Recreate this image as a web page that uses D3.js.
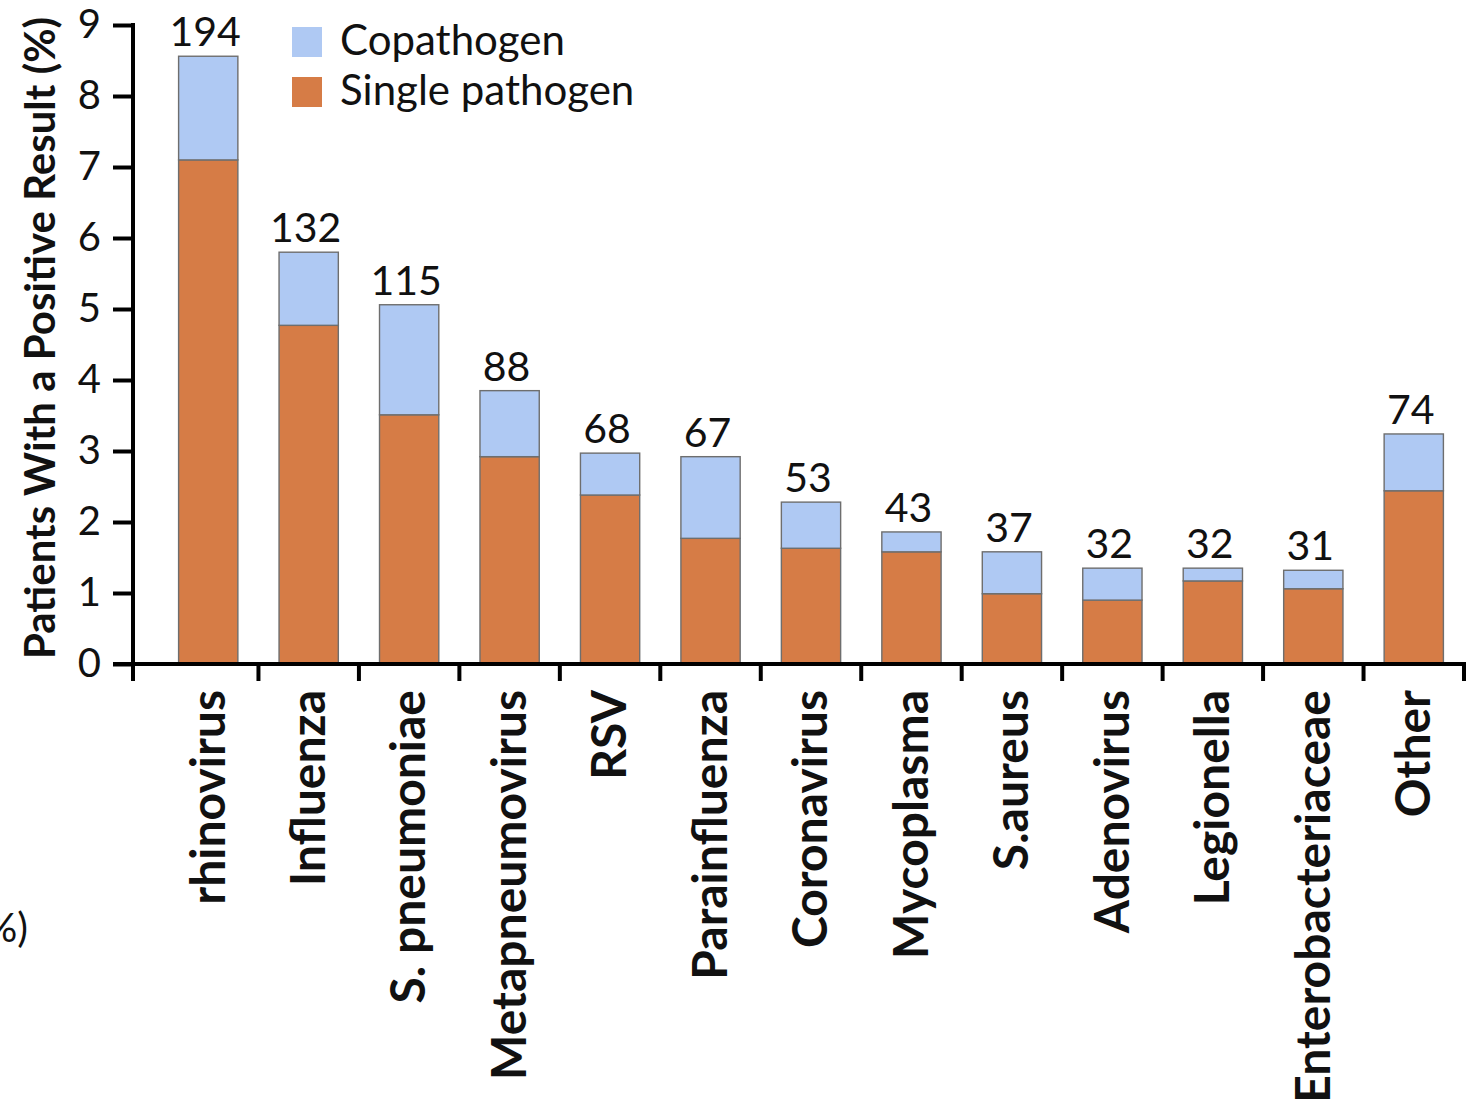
<!DOCTYPE html>
<html>
<head>
<meta charset="utf-8">
<script src="https://cdn.jsdelivr.net/npm/d3@7"></script>
<style>
  html, body { margin: 0; padding: 0; background: #fff; }
  svg { display: block; font-family: Lato, "Open Sans", sans-serif; }
</style>
</head>
<body>
<div id="chart"></div>
<script>
// Pathogens detected, percent of patients, split by single vs copathogen
const categories = ['rhinovirus', 'Influenza', 'S. pneumoniae', 'Metapneumovirus', 'RSV',
  'Parainfluenza', 'Coronavirus', 'Mycoplasma', 'S.aureus', 'Adenovirus', 'Legionella',
  'Enterobacteriaceae', 'Other'];
const singlePathogen = [7.10, 4.77, 3.51, 2.92, 2.38, 1.77, 1.63, 1.58, 0.99, 0.90, 1.17, 1.06, 2.44];
const copathogen = [1.46, 1.03, 1.55, 0.93, 0.59, 1.15, 0.65, 0.28, 0.59, 0.45, 0.18, 0.26, 0.80];
const counts = [194, 132, 115, 88, 68, 67, 53, 43, 37, 32, 32, 31, 74];
const yTicks = [0, 1, 2, 3, 4, 5, 6, 7, 8, 9];
const legendItems = ['Copathogen', 'Single pathogen'];

const W = 1473, H = 1109;
const colors = { single: '#d67c46', copathogen: '#afc9f3' };

const svg = d3.select('#chart').append('svg')
  .attr('width', W)
  .attr('height', H);

const x = d3.scaleBand()
  .domain(categories)
  .range([158, 1464])
  .paddingInner(0.41)
  .paddingOuter(0.205);

const y = d3.scaleLinear()
  .domain([0, 9])
  .range([664, 25]);

const rows = categories.map((c, i) => ({
  name: c, single: singlePathogen[i], copathogen: copathogen[i], n: counts[i]
}));
const series = d3.stack().keys(['single', 'copathogen'])(rows);

// bars
svg.append('g')
  .selectAll('g')
  .data(series)
  .join('g')
  .attr('fill', d => colors[d.key])
  .selectAll('rect')
  .data(d => d)
  .join('rect')
  .attr('x', d => x(d.data.name))
  .attr('y', d => y(d[1]))
  .attr('width', x.bandwidth())
  .attr('height', d => y(d[0]) - y(d[1]))
  .attr('stroke', '#6e6e6e')
  .attr('stroke-width', 1.4);

// count labels on top
svg.append('g')
  .selectAll('text')
  .data(rows)
  .join('text')
  .attr('x', d => x(d.name) + x.bandwidth() / 2 - 3)
  .attr('y', d => y(d.single + d.copathogen) - 10)
  .attr('text-anchor', 'middle')
  .style('font-size', '41px')
  .attr('fill', '#111')
  .text(d => d.n);

// y axis
const yAxis = svg.append('g')
  .attr('transform', 'translate(133,0)')
  .call(d3.axisLeft(y).tickValues(yTicks).tickSize(20).tickPadding(12).tickFormat(d3.format('d')));
yAxis.select('.domain').remove();
yAxis.selectAll('.tick line').attr('stroke', '#000').attr('stroke-width', 4);
yAxis.selectAll('.tick text')
  .attr('fill', '#111')
  .style('font-size', '40px')
  .style('font-family', 'Lato, sans-serif');

svg.append('line')
  .attr('x1', 133).attr('x2', 133)
  .attr('y1', y(9) - 2).attr('y2', 681)
  .attr('stroke', '#000').attr('stroke-width', 4);

// x axis line + boundary ticks
svg.append('line')
  .attr('x1', 113).attr('x2', 1466)
  .attr('y1', y(0)).attr('y2', y(0))
  .attr('stroke', '#000').attr('stroke-width', 4);

const bounds = d3.range(1, categories.length + 1).map(i => x.range()[0] + i * x.step());
svg.append('g')
  .selectAll('line')
  .data(bounds)
  .join('line')
  .attr('x1', d => d).attr('x2', d => d)
  .attr('y1', y(0)).attr('y2', 681)
  .attr('stroke', '#000').attr('stroke-width', 4);

// category labels, rotated
svg.append('g')
  .selectAll('text')
  .data(categories)
  .join('text')
  .attr('transform', d => `translate(${x(d) + x.bandwidth() / 2 - 1},690) rotate(-90)`)
  .attr('dy', '0.36em')
  .attr('text-anchor', 'end')
  .style('font-size', '48px')
  .style('font-weight', 'bold')
  .attr('fill', '#111')
  .text(d => d);

// y title
svg.append('text')
  .attr('transform', 'translate(40,338) rotate(-90)')
  .attr('dy', '0.36em')
  .attr('text-anchor', 'middle')
  .style('font-size', '42px')
  .style('font-weight', 'bold')
  .attr('fill', '#111')
  .text('Patients With a Positive Result (%)');

// legend
const legend = svg.append('g')
  .selectAll('g')
  .data(legendItems)
  .join('g')
  .attr('transform', (d, i) => `translate(292,${27 + i * 50})`);
legend.append('rect')
  .attr('width', 30).attr('height', 30)
  .attr('fill', (d, i) => i === 0 ? colors.copathogen : colors.single);
legend.append('text')
  .attr('x', 48).attr('y', 28)
  .style('font-size', '42px')
  .attr('fill', '#111')
  .text(d => d);

// clipped fragment of a neighbouring label at the left edge
svg.append('text')
  .attr('x', 28).attr('y', 942)
  .attr('text-anchor', 'end')
  .style('font-size', '40px')
  .attr('fill', '#111')
  .text('(%)');
</script>
</body>
</html>
